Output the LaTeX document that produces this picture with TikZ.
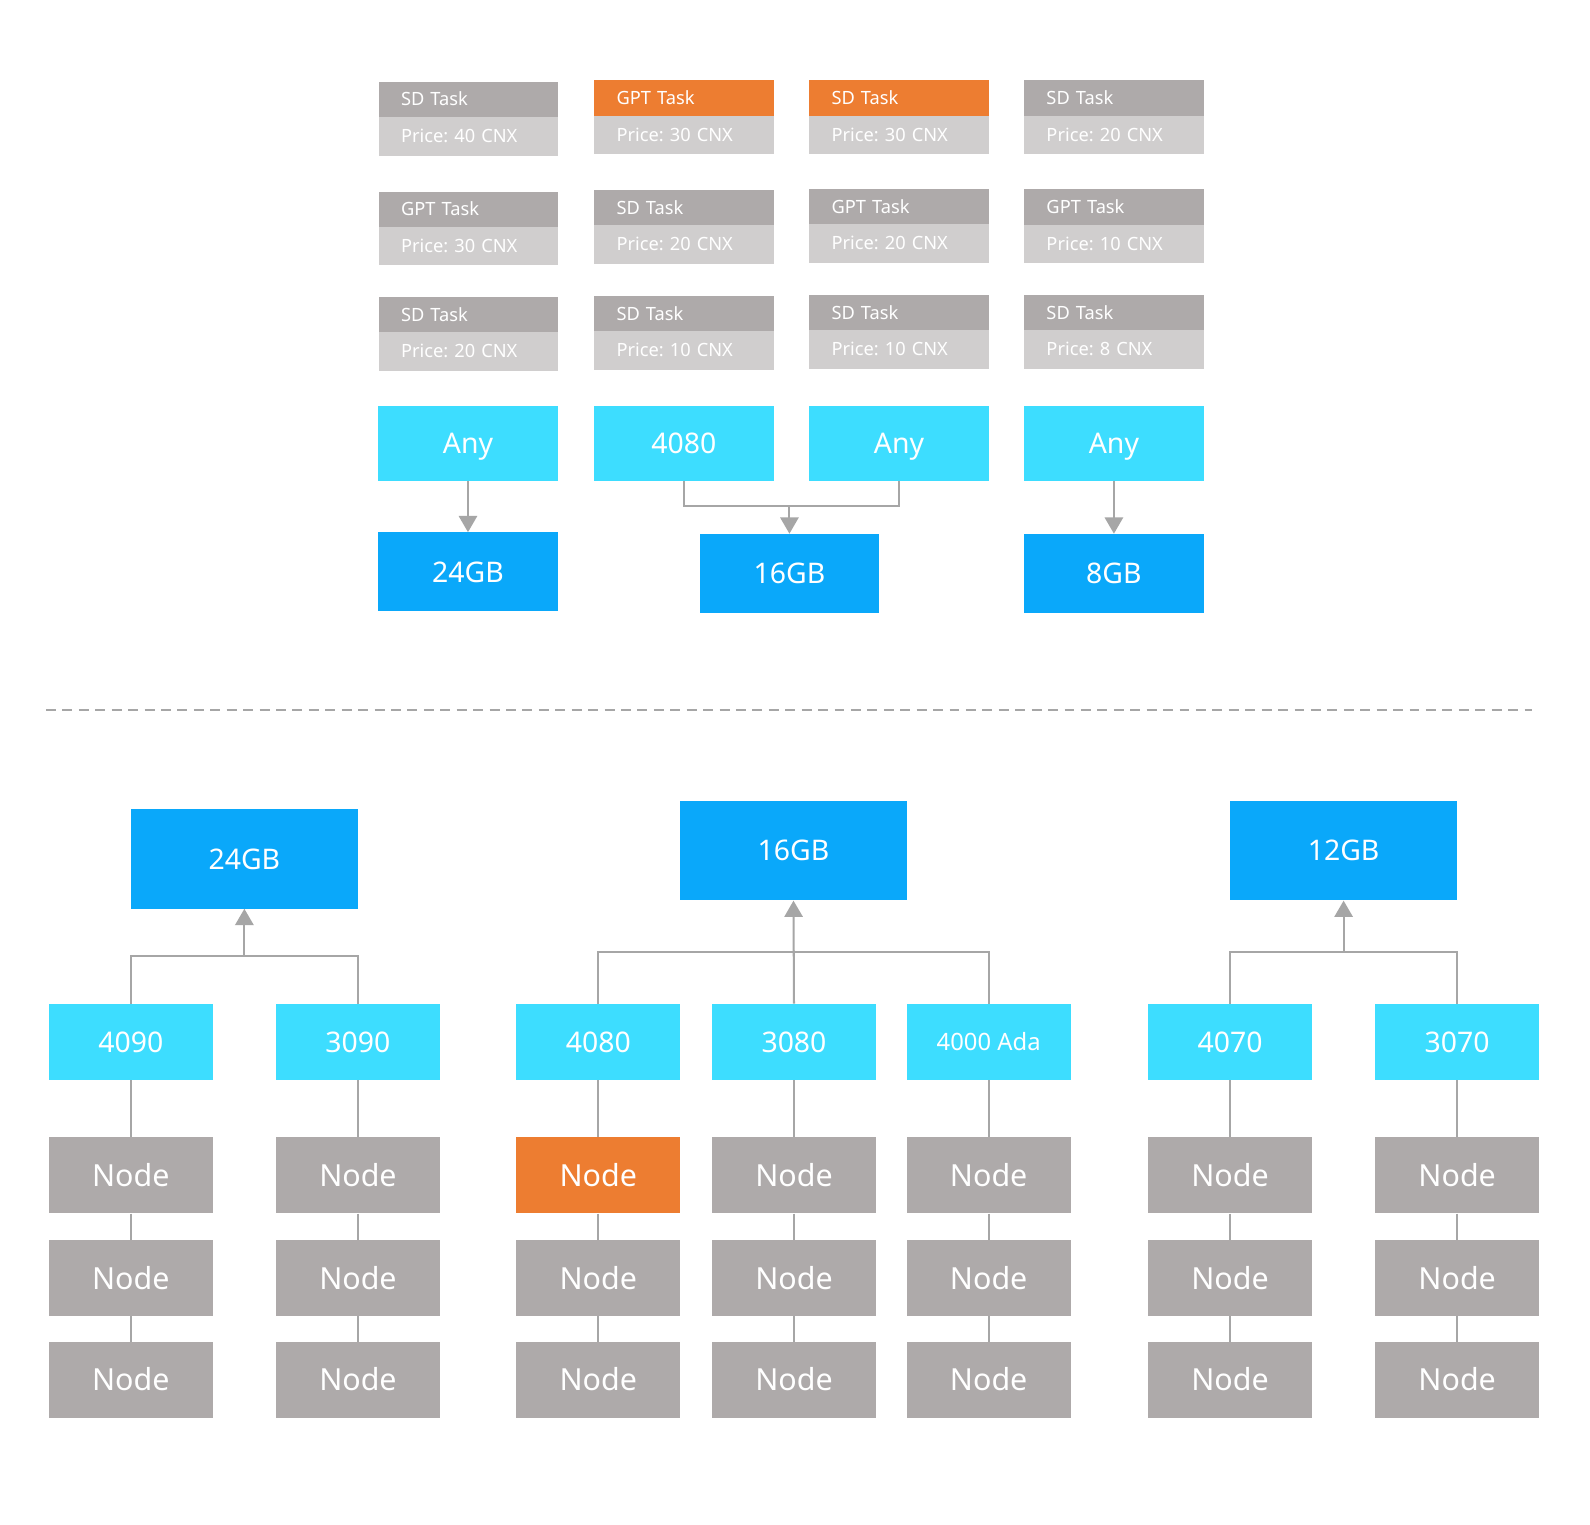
\documentclass[tikz,border=0pt]{standalone}
\usepackage{fontspec}
\setmainfont{Noto Sans}
\frenchspacing
\usetikzlibrary{arrows.meta}
\definecolor{hdrgray}{HTML}{AEAAAA}
\definecolor{prgray}{HTML}{D0CECE}
\definecolor{orng}{HTML}{ED7D31}
\definecolor{cyanb}{HTML}{3DDDFF}
\definecolor{blueb}{HTML}{0AA8FA}
\definecolor{linegray}{HTML}{A6A6A6}
\tikzset{
  base/.style={inner sep=0pt, text=white, draw=none, text depth=0pt},
  taskhdr/.style={base, fill=hdrgray, minimum width=177pt, minimum height=35pt, inner xsep=22pt, text width=133pt, align=left, text height=13pt, font=\fontsize{18}{21}\selectfont},
  taskhdro/.style={taskhdr, fill=orng},
  taskpr/.style={taskhdr, fill=prgray, minimum height=38pt},
  anybox/.style={base, fill=cyanb, minimum width=177pt, minimum height=74pt, text height=20pt, font=\fontsize{28}{32}\selectfont},
  gbtop/.style={base, fill=blueb, minimum width=177pt, minimum height=78pt, text height=20pt, font=\fontsize{28}{32}\selectfont},
  gbbot/.style={base, fill=blueb, minimum width=224pt, minimum height=98pt, text height=20pt, font=\fontsize{28}{32}\selectfont},
  gpubox/.style={base, fill=cyanb, minimum width=162pt, minimum height=75pt, text height=20pt, font=\fontsize{28}{32}\selectfont},
  nodebox/.style={base, fill=hdrgray, minimum width=162pt, minimum height=75pt, text height=21.4pt, font=\fontsize{30}{34}\selectfont},
  nodeboxo/.style={nodebox, fill=orng},
  conn/.style={draw=linegray, line width=2pt},
  arr/.style={conn, -{Triangle[width=18pt,length=16pt]}},
}
\begin{document}
\begin{tikzpicture}[x=1pt,y=-1pt]
\useasboundingbox[fill=white] (0,0) rectangle (1568,1503);

% ---------- top task grid ----------
% column 1
\node[taskhdr]  (t11h) at (462,98)    {SD Task};
\node[taskpr]   (t11p) at (462,134.5) {Price: 40 CNX};
\node[taskhdr]  (t21h) at (462,206.5) {GPT Task};
\node[taskpr]   (t21p) at (462,242.5) {Price: 30 CNX};
\node[taskhdr]  (t31h) at (462,310.5) {SD Task};
\node[taskpr]   (t31p) at (462,346.5) {Price: 20 CNX};
% column 2
\node[taskhdro] (t12h) at (674.5,96.5)  {GPT Task};
\node[taskpr]   (t12p) at (674.5,133)   {Price: 30 CNX};
\node[taskhdr]  (t22h) at (674.5,205)   {SD Task};
\node[taskpr]   (t22p) at (674.5,241)   {Price: 20 CNX};
\node[taskhdr]  (t32h) at (674.5,309.5) {SD Task};
\node[taskpr]   (t32p) at (674.5,345.5) {Price: 10 CNX};
% column 3
\node[taskhdro] (t13h) at (886.5,96.5)  {SD Task};
\node[taskpr]   (t13p) at (886.5,133)   {Price: 30 CNX};
\node[taskhdr]  (t23h) at (886.5,204)   {GPT Task};
\node[taskpr]   (t23p) at (886.5,240)   {Price: 20 CNX};
\node[taskhdr]  (t33h) at (886.5,308.5) {SD Task};
\node[taskpr]   (t33p) at (886.5,344.5) {Price: 10 CNX};
% column 4
\node[taskhdr]  (t14h) at (1098.5,96.5)  {SD Task};
\node[taskpr]   (t14p) at (1098.5,133)   {Price: 20 CNX};
\node[taskhdr]  (t24h) at (1098.5,204)   {GPT Task};
\node[taskpr]   (t24p) at (1098.5,240.5) {Price: 10 CNX};
\node[taskhdr]  (t34h) at (1098.5,308.5) {SD Task};
\node[taskpr]   (t34p) at (1098.5,344.5) {Price: 8 CNX};

% requirement row
\node[anybox] (any1)  at (461.5,437)  {Any};
\node[anybox] (r4080) at (674.5,437)  {4080};
\node[anybox] (any3)  at (886.5,437)  {Any};
\node[anybox] (any4)  at (1098.5,437) {Any};

\node[gbtop] (tg24) at (461.5,564)   {24GB};
\node[gbtop] (tg16) at (778.5,565.5) {16GB};
\node[gbtop] (tg8)  at (1098.5,565.5) {8GB};

\draw[arr] (any1.south) -- (tg24.north);
\coordinate (jt) at (778.5,499);
\draw[conn] (r4080.south) |- (jt) -| (any3.south);
\draw[arr] (jt) -- (tg16.north);
\draw[arr] (any4.south) -- (tg8.north);

% separator
\coordinate (sepL) at (45.4,700);
\coordinate (sepR) at (1511,700);
\draw[draw=linegray, line width=2pt, dash pattern=on 9.8pt off 6.4pt] (sepL) -- (sepR);

% ---------- bottom trees ----------
\node[gbbot] (bg24) at (241,847)    {24GB};
\node[gbbot] (bg16) at (782.5,839)  {16GB};
\node[gbbot] (bg12) at (1325,839)   {12GB};

\node[gpubox] (g4090) at (129,1027.5)  {4090};
\node[gpubox] (g3090) at (353,1027.5)  {3090};
\node[gpubox] (g4080) at (590,1027.5)  {4080};
\node[gpubox] (g3080) at (783,1027.5)  {3080};
\node[gpubox, text height=17pt, font=\fontsize{23.5}{27}\selectfont] (gada) at (975,1027.5) {4000 Ada};
\node[gpubox] (g4070) at (1213,1027.5) {4070};
\node[gpubox] (g3070) at (1437,1027.5) {3070};

\coordinate (j24) at (241,943);
\draw[conn] (g4090.north) |- (j24) -| (g3090.north);
\draw[arr] (j24) -- (bg24.south);

\coordinate (j16) at (783,939);
\draw[conn] (g4080.north) |- (j16) -| (gada.north);
\draw[arr] (g3080.north) -- (bg16.south);

\coordinate (j12) at (1325,939);
\draw[conn] (g4070.north) |- (j12) -| (g3070.north);
\draw[arr] (j12) -- (bg12.south);

% node columns
\foreach \g/\x/\first in {g4090/129/nodebox, g3090/353/nodebox, g4080/590/nodeboxo, g3080/783/nodebox, gada/975/nodebox, g4070/1213/nodebox, g3070/1437/nodebox}{
  \node[\first] (\g n1) at (\x,1159)   {Node};
  \node[nodebox] (\g n2) at (\x,1260.5) {Node};
  \node[nodebox] (\g n3) at (\x,1361)   {Node};
  \draw[conn] (\g.south) -- (\g n1.north);
  \draw[conn] (\g n1.south) -- (\g n2.north);
  \draw[conn] (\g n2.south) -- (\g n3.north);
}
\end{tikzpicture}
\end{document}
